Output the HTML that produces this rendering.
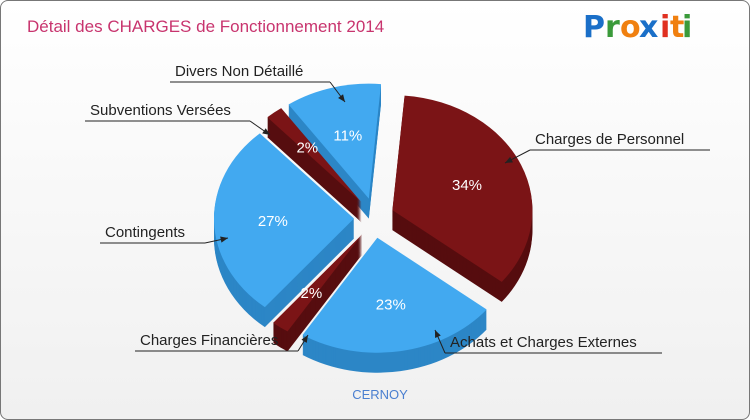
<!DOCTYPE html>
<html><head><meta charset="utf-8"><style>
body{margin:0;width:750px;height:420px;overflow:hidden;background:#fff;font-family:"Liberation Sans",sans-serif}
#frame{position:absolute;left:0;top:0;width:748px;height:418px;border:1px solid #777;border-radius:8px;background:linear-gradient(#fff,#f0f0f0)}
</style></head><body>
<div id="frame"></div>
<svg id="c" width="750" height="420" style="position:absolute;left:0;top:0">
<text x="27" y="32" font-size="17" fill="#c8346e">Détail des CHARGES de Fonctionnement 2014</text>
<g font-size="30" font-weight="bold" font-family="'DejaVu Sans',sans-serif">
<text x="583" y="37" fill="#1a6fc8">P</text><text x="605" y="37" fill="#3a9a3a">r</text><text x="620" y="37" fill="#f08010">o</text><text x="639" y="37" fill="#1a6fc8">x</text><text x="660" y="37" fill="#e03020">i</text><text x="670" y="37" fill="#f08010">t</text><text x="682" y="37" fill="#3a9a3a">i</text></g>
<text x="380" y="399" font-size="13" fill="#4a7fd0" text-anchor="middle">CERNOY</text>
<g id="slices"></g>
<g id="ann" font-size="15" fill="#222"></g>
</svg>
<script>
const categories=["Charges de Personnel","Achats et Charges Externes","Charges Financières","Contingents","Subventions Versées","Divers Non Détaillé"];
const values=[34,23,2,27,2,11];
const colorIdx=[1,0,1,0,1,0];
const NS="http://www.w3.org/2000/svg";
const cx=374,cy=218,rx=140,ry=115,depth=20,expl=20,start=5;
const topC=["#42a9f0","#7b1416"],sideC=["#2c86c6","#560d0f"];
const total=values.reduce((a,b)=>a+b,0);
const g=document.getElementById('slices');
function pt(a,r,ox,oy){const t=a*Math.PI/180;return [ox+r*rx*Math.sin(t),oy-r*ry*Math.cos(t)];}
function path(a0,a1,ox,oy){const p0=pt(a0,1,ox,oy),p1=pt(a1,1,ox,oy);const lg=(a1-a0)>180?1:0;
return `M${ox},${oy}L${p0[0]},${p0[1]}A${rx},${ry} 0 ${lg} 1 ${p1[0]},${p1[1]}Z`;}
let ang0=start;const sl=[];
values.forEach((v,i)=>{const sw=v/total*360;const mid=ang0+sw/2;const t=mid*Math.PI/180;
sl.push({i,a0:ang0,a1:ang0+sw,ox:cx+expl*Math.sin(t),oy:cy-expl*Math.cos(t),mid});ang0+=sw;});
sl.slice().sort((p,q)=>Math.cos(q.mid*Math.PI/180)-Math.cos(p.mid*Math.PI/180)).forEach(s=>{
const grp=document.createElementNS(NS,'g');


for(let d=depth;d>0;d--){const p=document.createElementNS(NS,'path');p.setAttribute('d',path(s.a0,s.a1,s.ox,s.oy+d));p.setAttribute('fill',sideC[colorIdx[s.i]]);grp.appendChild(p);}
const p=document.createElementNS(NS,'path');p.setAttribute('d',path(s.a0,s.a1,s.ox,s.oy));p.setAttribute('fill',topC[colorIdx[s.i]]);grp.appendChild(p);
const lp=pt(s.mid,values[s.i]<5?0.62:0.58,s.ox,s.oy);
const tx=document.createElementNS(NS,'text');tx.setAttribute('x',lp[0]);tx.setAttribute('y',lp[1]+6);tx.setAttribute('text-anchor','middle');tx.setAttribute('font-size','15');tx.setAttribute('fill','#fff');tx.textContent=values[s.i]+'%';


grp.appendChild(tx);g.appendChild(grp);});
const ann=[["Charges de Personnel",535,144,530,150,710,505,163],
["Achats et Charges Externes",450,347,445,353,662,435,330],
["Charges Financières",140,345,135,351,298,308,335],
["Contingents",105,237,100,243,205,228,238],
["Subventions Versées",90,115,85,121,250,270,135],
["Divers Non Détaillé",175,76,170,82,330,345,102]];
const ag=document.getElementById('ann');
ann.forEach(r=>{const gg=document.createElementNS(NS,'g');


const t=document.createElementNS(NS,'text');t.setAttribute('x',r[1]);t.setAttribute('y',r[2]);t.textContent=r[0];gg.appendChild(t);
const sx=r[6]<r[1]+50?r[3]:r[5];
const pl=document.createElementNS(NS,'line');pl.setAttribute('x1',r[3]);pl.setAttribute('y1',r[4]);pl.setAttribute('x2',r[5]);pl.setAttribute('y2',r[4]);pl.setAttribute('stroke','#222');gg.appendChild(pl);
const l=document.createElementNS(NS,'line');l.setAttribute('x1',sx);l.setAttribute('y1',r[4]);l.setAttribute('x2',r[6]);l.setAttribute('y2',r[7]);l.setAttribute('stroke','#222');gg.appendChild(l);
const an=Math.atan2(r[7]-r[4],r[6]-sx);const h=8;
const ah=document.createElementNS(NS,'polygon');
ah.setAttribute('points',`${r[6]},${r[7]} ${r[6]-h*Math.cos(an-0.4)},${r[7]-h*Math.sin(an-0.4)} ${r[6]-h*Math.cos(an+0.4)},${r[7]-h*Math.sin(an+0.4)}`);
ah.setAttribute('fill','#222');gg.appendChild(ah);ag.appendChild(gg);});
</script>
</body></html>
